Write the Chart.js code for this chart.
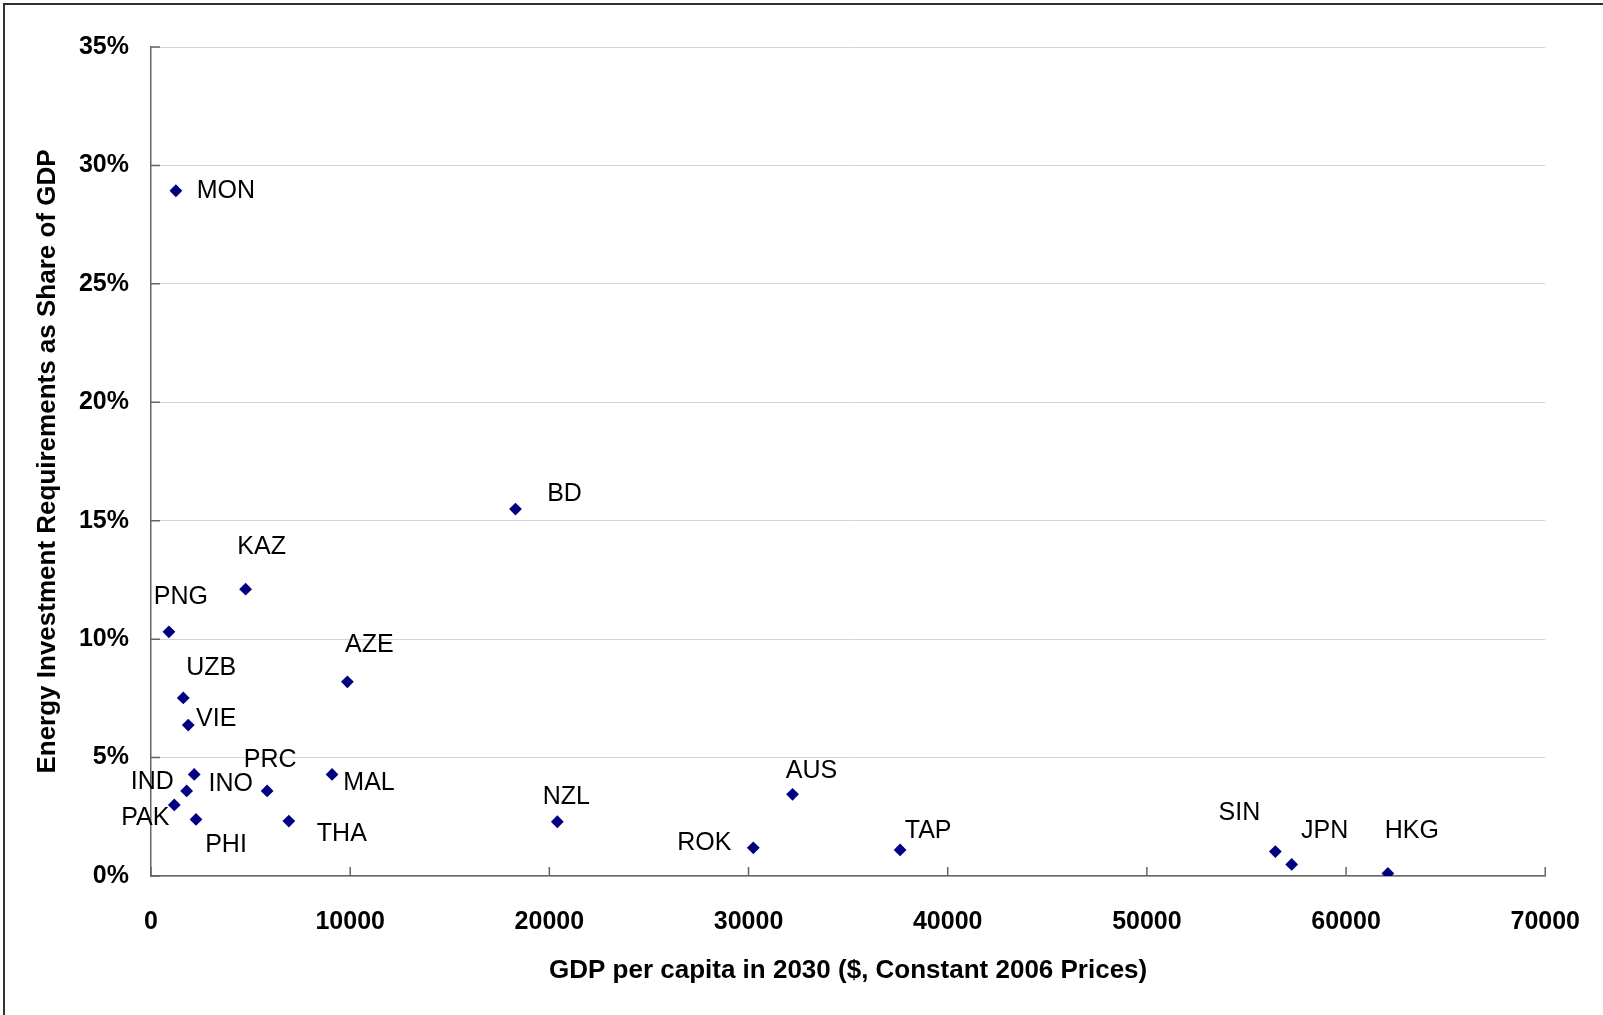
<!DOCTYPE html>
<html>
<head>
<meta charset="utf-8">
<title>Energy Investment Requirements vs GDP per capita</title>
<script src="https://cdn.jsdelivr.net/npm/chart.js@4.4.1/dist/chart.umd.min.js"></script>
<style>
  html, body { margin: 0; padding: 0; background: #fff; overflow: hidden; }
  canvas { display: block; }
</style>
</head>
<body>
<canvas id="chart" width="1603" height="1015"></canvas>
<script>
// economies, GDP per capita in 2030 ($, 2006 prices) and investment share (% of GDP)
const countries = ['MON', 'BD', 'KAZ', 'PNG', 'AZE', 'UZB', 'VIE', 'IND', 'INO', 'PRC', 'MAL',
                   'PAK', 'PHI', 'THA', 'NZL', 'AUS', 'ROK', 'TAP', 'SIN', 'JPN', 'HKG'];
const gdpPerCapita = [1250, 18300, 4750, 900, 9860, 1620, 1870, 2170, 1790, 5830, 9090,
                      1170, 2260, 6920, 20400, 32210, 30240, 37610, 56450, 57270, 62100];
const investmentShare = [28.93, 15.49, 12.11, 10.31, 8.20, 7.52, 6.37, 4.29, 3.59, 3.59, 4.29,
                         3.00, 2.39, 2.32, 2.29, 3.45, 1.19, 1.10, 1.03, 0.49, 0.11];

const xTitle = 'GDP per capita in 2030 ($, Constant 2006 Prices)';
const yTitle = 'Energy Investment Requirements as Share of GDP';

// where each name sits relative to its marker (px, label centre)
const labelOffsets = [
    [50, 0], [49, -15], [16, -42], [12, -35], [22, -37], [28, -30], [28, -6], [-42, 8],
    [44, -7], [3, -31], [37, 9], [-29, 13], [30, 26], [53, 13], [9, -25], [19, -23],
    [-49, -5], [28, -19], [-36, -38], [33, -33], [24, -42]
];

const FONT = "'Liberation Sans', Arial, sans-serif";

const frame = {
    id: 'frame',
    beforeDraw(chart) {
        const ctx = chart.ctx;
        ctx.save();
        ctx.fillStyle = '#fff';
        ctx.fillRect(0, 0, chart.width, chart.height);
        ctx.strokeStyle = '#333';
        ctx.lineWidth = 2;
        ctx.strokeRect(4, 4, chart.width + 50, chart.height + 50);
        ctx.restore();
    }
};

// short tick marks pointing into the plot
const innerTicks = {
    id: 'innerTicks',
    beforeDatasetsDraw(chart) {
        const {ctx, chartArea, scales} = chart;
        ctx.save();
        ctx.strokeStyle = '#666';
        ctx.lineWidth = 1.5;
        ctx.beginPath();
        scales.y.ticks.forEach(t => {
            const y = scales.y.getPixelForValue(t.value);
            ctx.moveTo(chartArea.left, y);
            ctx.lineTo(chartArea.left + 9, y);
        });
        scales.x.ticks.forEach(t => {
            const x = scales.x.getPixelForValue(t.value);
            ctx.moveTo(x, chartArea.bottom);
            ctx.lineTo(x, chartArea.bottom - 9);
        });
        ctx.stroke();
        ctx.restore();
    }
};

const pointLabels = {
    id: 'pointLabels',
    afterDatasetsDraw(chart) {
        const ctx = chart.ctx;
        const meta = chart.getDatasetMeta(0);
        ctx.save();
        ctx.font = `25px ${FONT}`;
        ctx.fillStyle = '#000';
        ctx.textAlign = 'center';
        ctx.textBaseline = 'middle';
        meta.data.forEach((pt, i) => {
            const [dx, dy] = labelOffsets[i];
            ctx.fillText(countries[i], pt.x + dx, pt.y + dy);
        });
        ctx.restore();
    }
};

const tickFont = {family: FONT, size: 25, weight: 'bold'};
const titleFont = {family: FONT, size: 26, weight: 'bold'};

new Chart(document.getElementById('chart'), {
    type: 'scatter',
    data: {
        datasets: [{
            data: gdpPerCapita.map((x, i) => ({x: x, y: investmentShare[i]})),
            pointStyle: 'rectRot',
            pointRadius: 6.4,
            pointBackgroundColor: '#000080',
            pointBorderColor: '#000080',
            pointBorderWidth: 0
        }]
    },
    options: {
        responsive: false,
        animation: false,
        layout: {padding: {top: 47, right: 47, left: 0, bottom: 0}},
        plugins: {
            legend: {display: false},
            tooltip: {enabled: false}
        },
        scales: {
            x: {
                type: 'linear',
                min: 0,
                max: 70000,
                afterFit(scale) { scale.height = 139; },
                grid: {display: false},
                border: {color: '#666', width: 1.5},
                ticks: {
                    stepSize: 10000,
                    padding: 23,
                    maxRotation: 0,
                    color: '#000',
                    font: tickFont,
                    callback: v => String(v)
                },
                title: {display: true, text: xTitle, color: '#000', font: titleFont,
                        padding: {top: 0, bottom: 29}}
            },
            y: {
                min: 0,
                max: 35,
                afterFit(scale) { scale.width = 151; },
                grid: {color: '#d4d4d4', lineWidth: 1, drawTicks: false},
                border: {color: '#666', width: 1.5},
                ticks: {
                    stepSize: 5,
                    padding: 22,
                    color: '#000',
                    font: tickFont,
                    callback: v => v + '%'
                },
                title: {display: true, text: yTitle, color: '#000', font: titleFont,
                        padding: {top: 32, bottom: 0}}
            }
        }
    },
    plugins: [frame, innerTicks, pointLabels]
});
</script>
</body>
</html>
